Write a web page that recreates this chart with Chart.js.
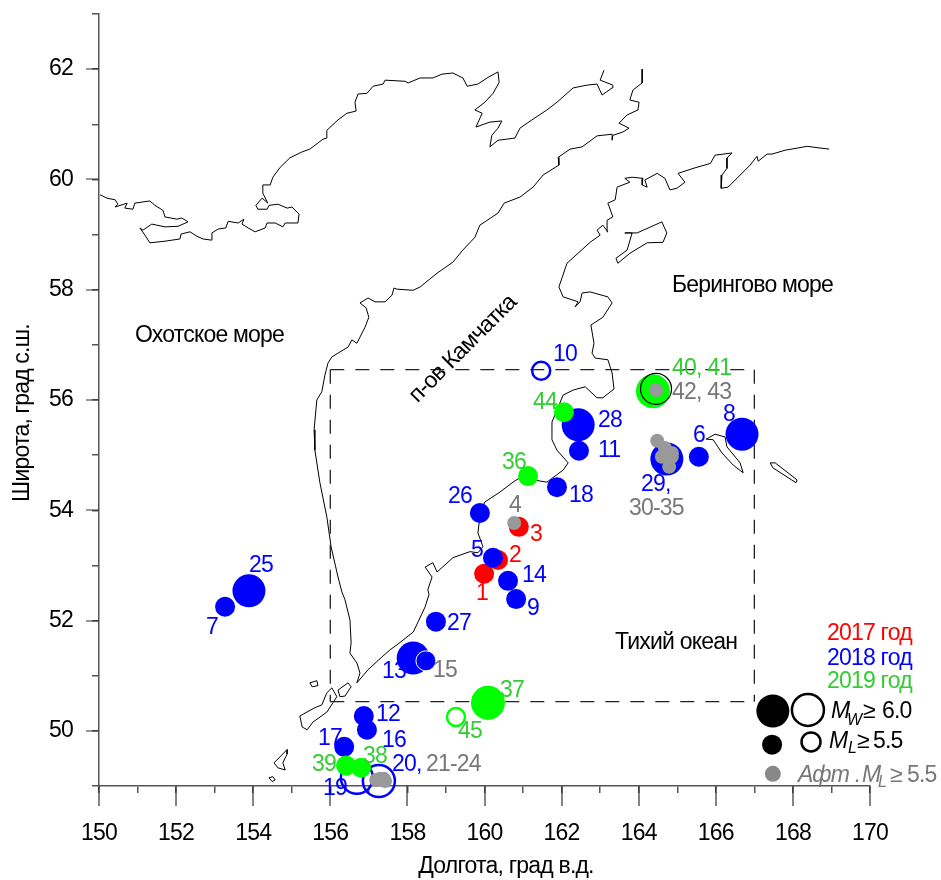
<!DOCTYPE html>
<html>
<head>
<meta charset="utf-8">
<style>
  html, body { margin: 0; padding: 0; background: #fff; }
  #box { width: 941px; height: 880px; }
</style>
<script src="https://cdn.jsdelivr.net/npm/chart.js@4"></script>
</head>
<body>
<div id="box"><canvas id="map"></canvas></div>
<script>
// --- axes
const lonTicks = [150, 152, 154, 156, 158, 160, 162, 164, 166, 168, 170];
const latTicks = [50, 52, 54, 56, 58, 60, 62];

// --- coast lines, lon / lat
const okhotskLon = [150.03,150.21,150.42,150.49,150.42,150.73,150.67,150.88,150.93,151.32,151.45,151.66,151.71,152.02,152.15,152.31,152.05,151.71,151.37,151.14,151.06,151.19,151.32,151.71,152.10,152.13,152.36,152.54,152.70,152.91,152.93,153.09,153.29,153.35,153.61,153.76,153.71,153.87,154.05,154.31,154.36,154.57,154.77,154.83,155.16,155.19,155.01,154.88,154.64,154.41,154.36,154.12,154.07,154.23,154.38,154.25,154.25,154.44,154.51,154.70,154.95,155.27,155.47,155.81,155.91,155.91,156.20,156.43,156.67,156.64,156.72,156.95,157.11,157.37,157.42,157.94,158.02,158.33,158.66,158.90,159.18,159.44,159.55,159.83,160.09,160.35,160.38,160.22,160.01,159.75,159.94,159.78,160.14,160.45,160.35,160.19,160.14,160.35,160.79,160.92,161.23,161.62,161.88,162.30,162.66,162.92,163.05,163.31,163.33,163.00,163.10];
const okhotskLat = [59.72,59.66,59.63,59.55,59.50,59.57,59.48,59.46,59.57,59.61,59.53,59.44,59.32,59.28,59.30,59.23,59.15,59.14,59.19,59.08,59.12,58.99,58.85,58.88,58.92,59.01,59.05,58.97,58.92,58.90,59.03,59.10,59.12,59.24,59.21,59.28,59.19,59.12,59.05,59.12,59.21,59.21,59.14,59.21,59.21,59.37,59.50,59.48,59.55,59.53,59.46,59.46,59.53,59.66,59.57,59.75,59.90,59.90,60.04,60.22,60.39,60.50,60.55,60.73,60.75,60.89,61.08,61.20,61.24,61.40,61.55,61.56,61.69,61.73,61.80,61.78,61.75,61.84,61.84,61.91,61.93,61.84,61.69,61.73,61.85,61.95,61.76,61.56,61.40,61.26,61.20,60.95,61.04,61.06,60.93,60.80,60.59,60.71,60.75,60.93,61.08,61.26,61.40,61.66,61.71,61.73,61.53,61.66,61.71,61.80,61.98];

const kamchatkaLon = [164.09,164.09,163.85,163.77,164.01,163.98,163.70,163.49,163.75,163.59,163.33,163.31,163.31,162.92,162.53,162.22,161.91,161.93,161.52,161.26,160.92,160.51,160.35,159.88,159.75,159.44,159.18,158.77,158.33,158.15,157.73,157.65,157.60,157.42,157.16,156.98,156.77,156.93,157.00,156.90,156.69,156.56,156.46,156.20,156.04,155.94,155.86,155.78,155.65,155.58,155.60,155.73,155.91,156.02,156.20,156.30,156.38,156.51,156.54,156.51,156.69,156.77,156.69,156.98,157.34,157.55,157.73,158.15,158.28,158.46,158.56,158.53,158.64,158.46,158.66,158.77,159.18,159.62,159.83,159.96,159.83,159.86,159.88,160.01,160.40,160.74,160.92,161.62,162.04,162.17,161.88,161.75,161.75,162.04,162.30,162.61,162.92,163.07,163.36,163.31,163.20,162.87,162.79,162.84,162.76,163.07,163.31,163.20,162.74,162.53,162.48,162.35,162.43,162.04,161.93,162.14,162.74,163.00,162.92,163.07,163.20,163.18,163.33,163.20,163.39,163.44,163.77,163.64,163.83,164.11,164.09,164.22,164.16,164.48,164.68,164.81,164.99,165.20,165.02,165.46,165.86,165.98,166.42,166.29,166.29,166.16,166.14,166.32,166.89,167.07,167.10,167.33,167.46,167.80,168.37,168.70,168.94];
const kamchatkaLat = [62.00,61.75,61.62,61.44,61.40,61.26,61.17,61.02,60.93,60.86,60.80,60.71,60.82,60.79,60.59,60.55,60.40,60.26,60.08,59.86,59.68,59.57,59.39,59.17,58.95,58.72,58.50,58.30,58.05,57.99,58.01,58.03,57.90,57.78,57.78,57.85,57.76,57.67,57.50,57.32,57.03,57.09,56.96,56.85,56.78,56.67,56.45,56.15,56.00,55.46,55.09,54.50,53.88,53.34,52.79,52.52,52.38,52.01,51.60,51.41,51.23,51.05,50.87,51.11,51.34,51.47,51.56,51.79,51.98,52.25,52.47,52.56,52.79,52.97,53.05,52.88,53.14,53.25,53.23,53.34,53.59,53.77,53.95,54.15,54.33,54.51,54.59,54.51,54.73,54.86,55.09,55.28,55.60,56.09,56.18,56.24,56.04,56.04,56.20,56.49,56.73,56.76,56.85,57.03,57.36,57.50,57.76,57.87,57.96,57.94,57.78,57.69,57.78,57.87,58.05,58.48,58.86,58.99,59.08,59.17,59.05,59.26,59.32,59.57,59.63,59.86,59.95,60.02,60.04,60.02,59.90,59.86,59.99,60.11,60.02,59.81,59.84,59.95,60.11,60.21,60.29,60.44,60.48,60.39,60.20,60.08,59.84,59.86,60.26,60.42,60.33,60.46,60.46,60.53,60.60,60.57,60.55];

// --- islands
const karaginLon = [163.64,163.96,164.60,164.73,164.63,164.22,163.77,163.46,163.41,163.70,163.83];
const karaginLat = [59.03,59.03,59.23,59.03,58.86,58.85,58.66,58.48,58.57,58.72,59.03];
const beringLon = [165.75,165.98,166.24,166.29,166.63,166.71,166.45,166.16,165.93];
const beringLat = [55.29,55.38,55.33,55.15,54.86,54.68,54.82,55.04,55.28];
const mednyLon = [167.41,167.54,168.11,168.08,167.48];
const mednyLat = [54.86,54.86,54.55,54.50,54.77];
const paramushirLon = [156.04,156.17,156.07,155.91,155.55,155.40,155.27,155.21,155.60,155.78,155.91];
const paramushirLat = [50.78,50.62,50.51,50.34,50.16,50.02,50.07,50.27,50.42,50.47,50.69];
const shumshuLon = [156.20,156.46,156.54,156.38,156.25];
const shumshuLat = [50.74,50.87,50.80,50.63,50.62];
const alaidLon = [155.47,155.65,155.68,155.53];
const alaidLat = [50.87,50.91,50.82,50.80];
const onekotanLon = [154.54,154.88,154.88,154.77,154.83,154.64];
const onekotanLat = [49.42,49.66,49.58,49.42,49.29,49.33];
const makanruLon = [154.41,154.51,154.57,154.49];
const makanruLat = [49.15,49.17,49.11,49.08];

// --- study area
const areaLon = [156, 167];
const areaLat = [50.53, 56.55];

// --- events (number in the comment)
const red2017Lon = [159.99, 160.35, 160.89];                 // 1 2 3
const red2017Lat = [52.85, 53.10, 53.70];
const blueMlLon = [160.22,165.56,153.27,160.82,162.45,156.87,160.61,156.95,156.36,161.88,159.88,158.74]; // 5 6 7 9 11 12 14 16 17 18 26 27
const blueMlLat = [53.14,54.97,52.25,52.39,55.08,50.27,52.72,50.02,49.71,54.42,53.95,51.98];
const blueMwLon = [166.68, 158.15, 153.89, 162.43, 164.73];  // 8 13 25 28 29
const blueMwLat = [55.38, 51.32, 52.54, 55.55, 54.93];
const blueEdgeLon = [158.48];                                // 15
const blueEdgeLat = [51.27];
const blueOpenMwLon = [156.69, 157.26];                      // 19 20
const blueOpenMwLat = [49.15, 49.09];
const blueOpenMlLon = [161.47];                              // 10
const blueOpenMlLat = [56.53];
const greenMlLon = [161.13, 156.80, 156.41, 162.06];         // 36 38 39 44
const greenMlLat = [54.62, 49.33, 49.37, 55.78];
const greenMwLon = [160.09, 164.37];                         // 37 40
const greenMwLat = [50.51, 56.16];
const blackOpenLon = [164.45];                               // 41
const blackOpenLat = [56.20];
const greenOpenLon = [159.26];                               // 45
const greenOpenLat = [50.25];
const aftershockLon = [160.77,157.19,157.29,157.39,157.42,164.48,164.68,164.86,164.60,164.86,164.79,164.45]; // 4 21-24 30-35 42-43
const aftershockLat = [53.77,49.11,49.13,49.13,49.09,55.26,55.13,55.04,54.97,54.97,54.79,56.18];

// --- legend symbols
const keyMwLon = [167.48];
const keyMwLat = [50.36];
const keyMwOpenLon = [168.39];
const keyMwOpenLat = [50.38];
const keyMlLon = [167.46];
const keyMlLat = [49.75];
const keyMlOpenLon = [168.47];
const keyMlOpenLat = [49.80];
const keyAftLon = [167.48];
const keyAftLat = [49.22];

const FONT = '"Liberation Sans", Arial, sans-serif';
const AXIS = "#555555";
const BLUE = "#0000ff", RED = "#ff0000", LIME = "#00ff00", GREEN_TXT = "#33cc33", GRAY_TXT = "#777777";

const zip = (xs, ys) => xs.map((x, i) => ({ x, y: ys[i] }));
const loop = (xs, ys) => zip(xs.concat(xs[0]), ys.concat(ys[0]));

function coast(data) {
  return { type: "line", data, borderColor: "#000", borderWidth: 1, pointRadius: 0, tension: 0, fill: false, clip: false, order: 20 };
}
function dashed(data) {
  return { type: "line", data, borderColor: "#222", borderWidth: 1.3, borderDash: [14, 11], pointRadius: 0, tension: 0, fill: false, order: 19 };
}
function dots(data, color, r, order) {
  return { data, showLine: false, pointRadius: r, pointHoverRadius: r, backgroundColor: color, borderColor: color, borderWidth: 0, clip: false, order };
}
function rings(data, color, r, order, w = 2.5) {
  return { data, showLine: false, pointRadius: r, pointHoverRadius: r, backgroundColor: "transparent", borderColor: color, pointBorderWidth: w, clip: false, order };
}

const datasets = [
  coast(zip(okhotskLon, okhotskLat)),
  coast(zip(kamchatkaLon, kamchatkaLat)),
  coast(loop(karaginLon, karaginLat)),
  coast(loop(beringLon, beringLat)),
  coast(loop(mednyLon, mednyLat)),
  coast(loop(paramushirLon, paramushirLat)),
  coast(loop(shumshuLon, shumshuLat)),
  coast(loop(alaidLon, alaidLat)),
  coast(loop(onekotanLon, onekotanLat)),
  coast(loop(makanruLon, makanruLat)),
  dashed(zip([areaLon[0], areaLon[1]], [areaLat[1], areaLat[1]])),
  dashed(zip([areaLon[1], areaLon[1]], [areaLat[1], areaLat[0]])),
  dashed(zip([areaLon[0], areaLon[0]], [areaLat[1], areaLat[0]])),
  dashed(zip([areaLon[0], areaLon[1]], [areaLat[0], areaLat[0]])),
  dots(zip(red2017Lon, red2017Lat), RED, 10, 12),
  rings(zip(blueOpenMwLon, blueOpenMwLat), BLUE, 16, 11),
  rings(zip(blueOpenMlLon, blueOpenMlLat), BLUE, 9, 11),
  dots(zip(blueMwLon, blueMwLat), BLUE, 16.5, 10),
  dots(zip(blueMlLon, blueMlLat), BLUE, 10, 9),
  { ...rings(zip(blueEdgeLon, blueEdgeLat), "#fff", 10, 8, 1), backgroundColor: BLUE },
  dots(zip(greenMwLon, greenMwLat), LIME, 17, 7),
  dots(zip(greenMlLon, greenMlLat), LIME, 10, 6),
  rings(zip(greenOpenLon, greenOpenLat), LIME, 9, 6),
  rings(zip(blackOpenLon, blackOpenLat), "#000", 15.5, 5, 1.2),
  dots(zip(aftershockLon, aftershockLat), "#999999", 7, 4),
  dots(zip(keyMwLon, keyMwLat), "#000", 16.5, 3),
  rings(zip(keyMwOpenLon, keyMwOpenLat), "#000", 16, 3),
  dots(zip(keyMlLon, keyMlLat), "#000", 10, 3),
  rings(zip(keyMlOpenLon, keyMlOpenLat), "#000", 9.5, 3),
  dots(zip(keyAftLon, keyAftLat), "#888888", 8, 3),
];

// text placed on the map: text, left, baseline, color, font
const LBL = `23px ${FONT}`, IT = `italic 23px ${FONT}`, SUB = `italic 16px ${FONT}`;
const notes = [
  ["Охотское море", 135, 342, "#000", LBL], ["Берингово море", 672, 292, "#000", LBL], ["Тихий океан", 615, 649, "#000", LBL],
  ["2017 год", 827, 640, RED, LBL], ["2018 год", 827, 665, BLUE, LBL], ["2019 год", 827, 688, GREEN_TXT, LBL],
  ["M", 831, 718, "#000", IT], ["W", 847, 725, "#000", SUB], ["≥", 863, 718, "#000", LBL], ["6.0", 882, 718, "#000", LBL],
  ["M", 829, 748, "#000", IT], ["L", 848, 753, "#000", SUB], ["≥", 857, 748, "#000", LBL], ["5.5", 873, 748, "#000", LBL],
  ["Афт .", 798, 782, GRAY_TXT, IT], ["M", 862, 782, GRAY_TXT, IT], ["L", 878, 787, GRAY_TXT, SUB], ["≥", 890, 782, GRAY_TXT, LBL], ["5.5", 907, 782, GRAY_TXT, LBL],
  ["1", 476, 600, RED, LBL], ["2", 509, 562, RED, LBL], ["3", 530, 541, RED, LBL], ["4", 509, 512, GRAY_TXT, LBL],
  ["5", 471, 557, BLUE, LBL], ["6", 693, 442, BLUE, LBL], ["7", 206, 634, BLUE, LBL], ["8", 723, 421, BLUE, LBL],
  ["9", 527, 615, BLUE, LBL], ["10", 553, 361, BLUE, LBL], ["11", 598, 457, BLUE, LBL], ["12", 376, 721, BLUE, LBL],
  ["13", 382, 678, BLUE, LBL], ["14", 522, 582, BLUE, LBL], ["15", 433, 677, GRAY_TXT, LBL], ["16", 382, 747, BLUE, LBL],
  ["17", 318, 745, BLUE, LBL], ["18", 569, 502, BLUE, LBL], ["19", 323, 795, BLUE, LBL], ["20,", 392, 771, BLUE, LBL],
  ["21-24", 426, 771, GRAY_TXT, LBL], ["25", 249, 572, BLUE, LBL], ["26", 448, 503, BLUE, LBL], ["27", 447, 630, BLUE, LBL],
  ["28", 598, 427, BLUE, LBL], ["29,", 641, 491, BLUE, LBL], ["30-35", 629, 515, GRAY_TXT, LBL], ["36", 502, 469, GREEN_TXT, LBL],
  ["37", 500, 697, GREEN_TXT, LBL], ["38", 363, 763, GREEN_TXT, LBL], ["39", 312, 771, GREEN_TXT, LBL], ["40, 41", 672, 375, GREEN_TXT, LBL],
  ["42, 43", 672, 399, GRAY_TXT, LBL], ["44", 533, 409, GREEN_TXT, LBL], ["45", 458, 738, GREEN_TXT, LBL],
];

function turned(ctx, text, cx, cy, deg) {
  ctx.save();
  ctx.translate(cx, cy);
  ctx.rotate(deg * Math.PI / 180);
  ctx.textAlign = "center";
  ctx.textBaseline = "middle";
  ctx.fillStyle = "#000";
  ctx.font = LBL;
  ctx.fillText(text, 0, 0);
  ctx.restore();
}

// long ticks on the labelled values and all the map text
const mapText = {
  id: "mapText",
  beforeDraw(chart) { chart.ctx.letterSpacing = "-0.8px"; },
  afterDatasetsDraw(chart) {
    const { ctx, scales: { x, y }, chartArea: a } = chart;
    ctx.save();
    ctx.strokeStyle = "#333";
    ctx.lineWidth = 1.2;
    ctx.beginPath();
    lonTicks.forEach((v) => { const p = Math.round(x.getPixelForValue(v)); ctx.moveTo(p, a.bottom); ctx.lineTo(p, a.bottom + 20); });
    latTicks.forEach((v) => { const p = Math.round(y.getPixelForValue(v)); ctx.moveTo(a.left, p); ctx.lineTo(a.left - 13, p); });
    ctx.stroke();
    ctx.textAlign = "left";
    ctx.textBaseline = "alphabetic";
    notes.forEach(([t, px, py, color, font]) => { ctx.fillStyle = color; ctx.font = font; ctx.fillText(t, px, py); });
    turned(ctx, "п-ов Камчатка", 463, 349, -45);
    turned(ctx, "Долгота, град в.д.", 506, 867, 0);
    turned(ctx, "Широта, град с.ш.", 23, 413, -90);
    ctx.restore();
  },
};

new Chart(document.getElementById("map"), {
  type: "scatter",
  data: { datasets },
  plugins: [mapText],
  options: {
    responsive: true, maintainAspectRatio: false, animation: false,
    // autoPadding off: the big markers must not push the plot area in
    layout: { autoPadding: false, padding: { left: 0, right: 71, top: 14, bottom: 0 } },
    plugins: { legend: { display: false }, tooltip: { enabled: false } },
    events: [],
    scales: {
      x: {
        type: "linear", min: 150, max: 170,
        afterFit: (s) => { s.height = 94; s.paddingLeft = 0; s.paddingRight = 0; },
        border: { color: AXIS, width: 1.5 },
        grid: { drawOnChartArea: false, color: AXIS, tickLength: 7, lineWidth: 1.5 },
        ticks: { stepSize: 1, autoSkip: false, maxRotation: 0, color: "#000", font: { family: FONT, size: 23 }, padding: 27, callback: (v) => (lonTicks.includes(v) ? String(v) : "") },
      },
      y: {
        type: "linear", min: 49, max: 63,
        afterFit: (s) => { s.width = 99; s.paddingTop = 0; s.paddingBottom = 0; },
        border: { color: AXIS, width: 1.5 },
        grid: { drawOnChartArea: false, color: AXIS, tickLength: 7, lineWidth: 1.5 },
        ticks: { stepSize: 1, autoSkip: false, color: "#000", font: { family: FONT, size: 23 }, padding: 19, callback: (v) => (latTicks.includes(v) ? String(v) : "") },
      },
    },
  },
});
</script>
</body>
</html>
